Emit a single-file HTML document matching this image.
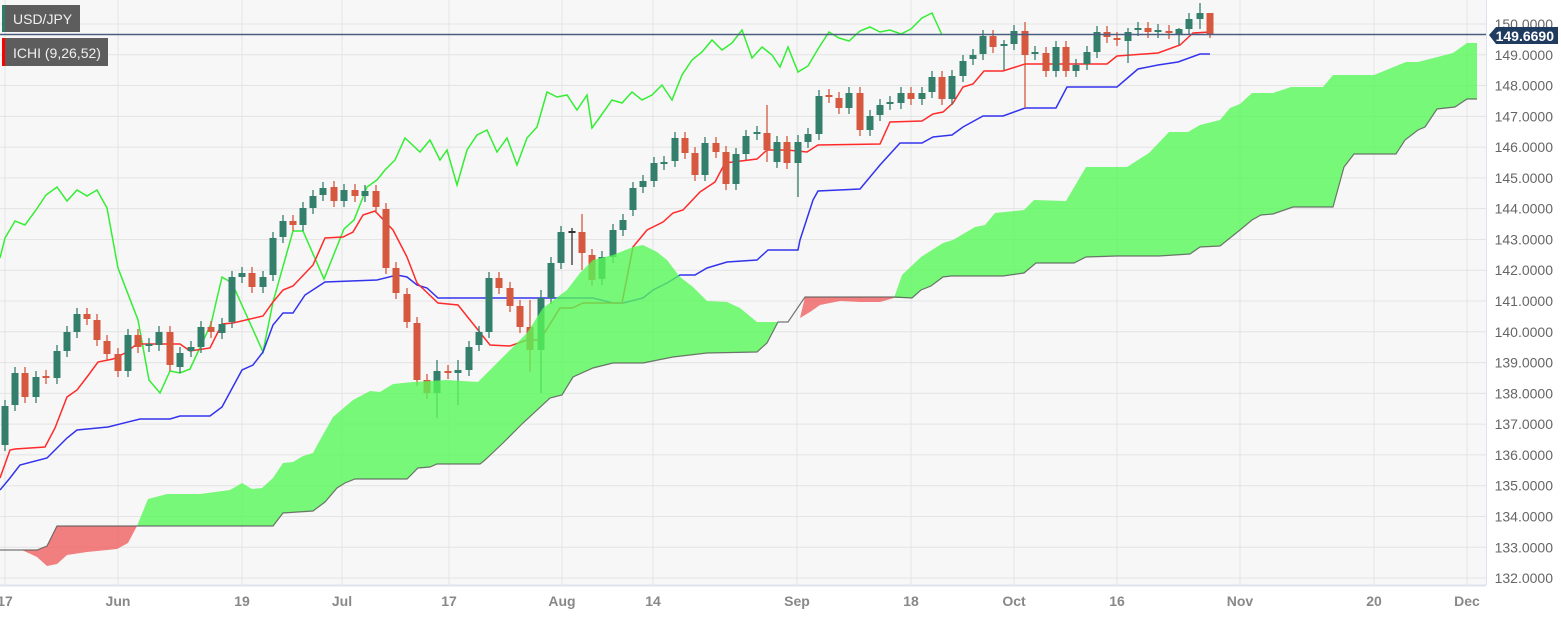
<!DOCTYPE html>
<html><head><meta charset="utf-8"><style>
html,body{margin:0;padding:0;background:#fff;}
svg{display:block;font-family:"Liberation Sans",sans-serif;}
</style></head><body>
<svg id="c" width="1561" height="625" xmlns="http://www.w3.org/2000/svg">
<rect x="0" y="0" width="1486" height="585" fill="#f7f7f7"/>
<g id="grid" stroke="#e4e4e4" stroke-width="1"></g>
<g id="lines" fill="none" stroke-width="1.5"></g>
<g id="candles"></g>
<g id="cloud"></g>
<line x1="0" y1="34.5" x2="1486" y2="34.5" stroke="#4a5f80" stroke-width="1.5"/>
<line x1="1486.5" y1="0" x2="1486.5" y2="585" stroke="#dde3ec" stroke-width="1"/>
<line x1="0" y1="585.5" x2="1486" y2="585.5" stroke="#dde3ec" stroke-width="2"/>
<g id="ylab" fill="#666" font-size="14" text-anchor="end"></g>
<g id="xlab" fill="#888" font-size="14" font-weight="bold" text-anchor="middle"></g>
<path d="M1489,35 L1496,27 L1558,27 L1558,44 L1496,44 Z" fill="#1f3b60"/>
<text x="1554" y="41" fill="#fff" font-size="14" font-weight="bold" text-anchor="end">149.6690</text>
<rect x="2" y="5" width="78" height="27" fill="#5d5d5d"/>
<rect x="2" y="5" width="3" height="27" fill="#2e7d6b"/>
<text x="13" y="24" fill="#f0f0f0" font-size="14">USD/JPY</text>
<rect x="2" y="38" width="106" height="28" fill="#5d5d5d"/>
<rect x="2" y="38" width="3" height="28" fill="#ff0000"/>
<text x="13" y="58" fill="#f0f0f0" font-size="14">ICHI (9,26,52)</text>
</svg>
<script>
const NS="http://www.w3.org/2000/svg";
function el(p,t,a){const e=document.createElementNS(NS,t);for(const k in a)e.setAttribute(k,a[k]);document.getElementById(p).appendChild(e);return e;}
// grid
for(let i=0;i<=18;i++){const y=24+i*30.78;el('grid','line',{x1:0,x2:1486,y1:y,y2:y});
 const t=el('ylab','text',{x:1553,y:y+5});t.textContent=(150-i).toFixed(4);}
const xl=[[5,'17'],[118,'Jun'],[242,'19'],[342,'Jul'],[449,'17'],[562,'Aug'],[653,'14'],[797,'Sep'],[911,'18'],[1014,'Oct'],[1117,'16'],[1240,'Nov'],[1374,'20'],[1467,'Dec']];
xl.forEach(([x,s])=>{el('grid','line',{x1:x,x2:x,y1:0,y2:585});const t=el('xlab','text',{x:x,y:606});t.textContent=s;});
function pl(pts,c){el('lines','polyline',{points:pts.map(p=>p.join(',')).join(' '),stroke:c});}
// chikou
pl([[0,258],[5,238],[15,221],[25,225],[36,210],[46,195],[57,187],[67,201],[77,190],[87,196],[97,190],[107,208],[118,268],[138,320],[149,380],[160,393],[170,371],[180,373],[190,369],[211,324],[222,277],[232,283],[263,352],[273,302],[293,231],[303,231],[324,279],[344,229],[354,220],[367,187],[377,180],[385,170],[395,160],[405,138],[420,152],[430,140],[440,160],[447,150],[457,185],[467,150],[477,135],[487,130],[497,152],[507,138],[517,165],[527,138],[537,127],[547,92],[557,97],[567,95],[577,110],[587,95],[592,128],[600,117],[612,100],[622,103],[632,92],[642,100],[652,95],[662,85],[672,100],[682,75],[692,60],[702,52],[712,40],[722,50],[732,43],[742,30],[752,58],[762,47],[772,55],[780,67],[788,47],[798,72],[808,66],[818,49],[829,32],[839,38],[849,41],[860,31],[870,27],[880,32],[890,30],[901,34],[911,29],[922,18],[932,13],[942,35]],'#33ee33');
// kijun
pl([[0,490],[10,478],[20,465],[47,458],[67,438],[77,430],[108,427],[140,419],[170,419],[180,416],[210,416],[222,407],[242,370],[253,365],[263,352],[273,325],[283,313],[293,313],[305,295],[325,282],[377,280],[397,275],[407,277],[417,285],[427,288],[438,298],[593,298],[613,303],[623,303],[643,298],[653,290],[667,283],[680,275],[695,275],[707,268],[727,262],[757,260],[768,250],[798,250],[800,240],[813,200],[818,191],[860,189],[880,165],[900,143],[922,143],[933,137],[952,135],[963,127],[983,116],[1003,116],[1025,108],[1056,108],[1067,87],[1117,87],[1138,69],[1158,65],[1178,62],[1200,54],[1210,54]],'#3333ee');
// tenkan
pl([[0,478],[10,450],[15,449],[45,447],[55,428],[67,397],[77,390],[87,377],[98,362],[113,359],[125,353],[137,344],[180,344],[190,351],[210,348],[222,324],[233,323],[263,316],[273,302],[283,290],[293,286],[313,265],[325,238],[343,237],[353,232],[363,215],[375,211],[393,230],[407,257],[417,283],[438,303],[458,305],[490,345],[510,346],[527,340],[540,340],[560,308],[572,308],[583,303],[622,303],[633,247],[647,230],[663,222],[673,213],[683,210],[700,192],[715,182],[725,163],[757,159],[767,150],[787,150],[807,152],[818,145],[880,144],[890,122],[922,121],[933,114],[943,112],[953,103],[963,87],[973,84],[984,71],[1003,71],[1025,64],[1107,64],[1117,56],[1158,53],[1180,45],[1193,33],[1210,32]],'#ff2a2a');
// candles [x,top,bottom,c, wickTop, wickBot]
const C=[[5,406,445,'g'],[15,373,405,'g'],[25,373,397,'r'],[36,377,397,'g'],[46,376,378,'r'],[57,351,378,'g'],[67,332,351,'g'],[77,314,332,'g'],[87,314,319,'r'],[97,320,340,'r'],[107,341,354,'r'],[118,354,371,'r'],[128,335,371,'g'],[138,335,347,'r'],[149,344,346,'g'],[159,332,345,'g'],[170,332,365,'r'],[180,353,367,'g'],[191,347,351,'g'],[201,327,347,'g'],[211,327,332,'r'],[222,324,333,'g'],[232,277,322,'g'],[242,273,277,'g'],[252,273,287,'r'],[263,277,287,'g'],[273,238,275,'g'],[283,221,237,'g'],[293,221,225,'r'],[303,208,225,'g'],[313,196,208,'g'],[323,188,195,'g'],[334,187,201,'r'],[344,190,201,'g'],[355,190,196,'r'],[365,191,196,'g'],[376,191,207,'r'],[386,209,268,'r'],[396,268,293,'r'],[407,294,322,'r'],[417,323,380,'r'],[427,380,393,'r'],[437,371,393,'g',360,418],[448,371,373,'r'],[458,370,373,'g',360,405],[469,347,370,'g'],[479,332,345,'g'],[489,278,332,'g'],[499,278,288,'r'],[510,288,306,'r'],[520,306,327,'r'],[530,327,350,'r',300,372],[541,298,350,'g',290,393],[551,263,298,'g'],[561,232,263,'g'],[572,231,233,'k',228,265],[582,232,253,'r',214,270],[592,255,280,'r'],[602,257,279,'g'],[613,230,257,'g'],[623,220,230,'g'],[633,188,210,'g'],[643,181,187,'g'],[654,163,181,'g'],[664,162,164,'g'],[675,138,161,'g'],[685,138,153,'r'],[695,153,175,'r'],[705,143,175,'g'],[716,143,152,'r'],[726,152,184,'r'],[736,154,184,'g'],[746,136,154,'g'],[757,132,134,'g'],[767,133,150,'r',105,162],[777,142,162,'g'],[787,142,163,'r'],[798,142,163,'g',135,197],[808,134,142,'g'],[819,96,134,'g'],[829,95,97,'r'],[839,98,108,'r'],[849,93,108,'g'],[860,93,130,'r'],[870,116,130,'g'],[880,105,115,'g'],[890,102,104,'g'],[901,93,103,'g'],[911,93,99,'r'],[922,93,99,'g'],[932,77,92,'g'],[942,77,99,'r'],[952,76,99,'g'],[963,61,76,'g'],[973,55,59,'g'],[983,36,54,'g'],[993,36,47,'r'],[1004,44,46,'g',40,70],[1014,31,44,'g'],[1025,31,55,'r',22,108],[1035,52,54,'g'],[1046,53,71,'r'],[1056,47,71,'g'],[1066,47,71,'r'],[1076,65,71,'g'],[1087,52,64,'g'],[1097,32,52,'g'],[1107,32,37,'r'],[1117,38,40,'r'],[1128,32,41,'g',28,63],[1138,28,30,'g'],[1148,28,32,'r'],[1158,30,32,'g'],[1169,31,33,'r'],[1179,29,34,'g',28,45],[1189,19,29,'g'],[1200,13,19,'g',3,29],[1210,13,35,'r',13,38]];
const col={g:'#347f6c',r:'#d5583f',k:'#333'};
C.forEach(c=>{const [x,t,b,k]=c;const wt=c[4]!==undefined?c[4]:t-6,wb=c[5]!==undefined?c[5]:b+6;
 el('candles','line',{x1:x,x2:x,y1:wt,y2:wb,stroke:col[k],'stroke-width':1.3});
 el('candles','rect',{x:x-3.5,y:t,width:7,height:Math.max(1.5,b-t),fill:col[k]});});
// cloud
function poly(top,bot,fill){const pts=top.concat(bot.slice().reverse());el('cloud','polygon',{points:pts.map(p=>p.join(',')).join(' '),fill:fill,'fill-opacity':0.8});}
function line(pts){el('cloud','polyline',{points:pts.map(p=>p.join(',')).join(' '),fill:'none',stroke:'#555','stroke-width':1.2,'stroke-opacity':0.8});}
// early red
poly([[22,550],[37,550],[47,546],[57,526],[137,526]],[[22,550],[37,557],[47,566],[57,564],[67,555],[87,552],[117,549],[128,543],[137,526]],'#f06060');
const gTop=[[137,526],[148,499],[167,494],[200,494],[230,490],[242,483],[252,489],[262,488],[273,478],[283,463],[293,462],[303,456],[313,453],[320,440],[333,417],[353,400],[370,391],[380,392],[393,384],[413,382],[447,380],[478,382],[493,367],[513,347],[527,333],[543,308],[567,290],[580,273],[593,260],[613,255],[633,247],[643,245],[657,252],[667,260],[680,277],[693,287],[707,301],[727,302],[740,308],[757,322],[778,322],[788,322]];
const gBot=[[137,526],[273,526],[283,513],[313,511],[325,502],[337,488],[345,483],[355,479],[407,479],[418,468],[430,467],[437,464],[480,464],[485,460],[503,443],[523,423],[550,398],[562,395],[573,377],[593,368],[613,363],[643,363],[673,357],[707,353],[757,352],[767,343],[778,322],[788,322]];
poly(gTop,gBot,'#58f858');
poly([[788,322],[800,318],[805,297],[894,297]],[[788,322],[800,318],[810,312],[820,305],[840,301],[860,302],[880,302],[894,298]],'#f06060');
const g2Top=[[894,298],[902,275],[921,257],[943,243],[953,240],[975,227],[985,225],[995,213],[1024,210],[1034,200],[1066,201],[1086,167],[1127,167],[1149,153],[1169,132],[1188,132],[1200,125],[1220,120],[1230,108],[1240,104],[1252,93],[1273,93],[1291,87],[1323,87],[1333,75],[1374,75],[1406,62],[1418,62],[1453,53],[1467,43],[1477,43]];
const g2Bot=[[894,298],[912,298],[921,290],[931,286],[943,277],[951,276],[1003,276],[1024,273],[1036,263],[1074,263],[1086,257],[1117,256],[1159,256],[1190,254],[1200,247],[1220,246],[1240,230],[1252,220],[1261,215],[1273,214],[1293,207],[1333,207],[1344,167],[1354,154],[1396,154],[1405,140],[1418,130],[1425,127],[1437,109],[1455,107],[1467,99],[1477,99]];
poly(g2Top,g2Bot,'#58f858');
line([[0,550],[37,550],[47,546],[57,526],[137,526]].concat(gBot.slice(1)).concat([[805,297],[894,297]]).concat(g2Bot.slice(1)));
</script>
</body></html>
